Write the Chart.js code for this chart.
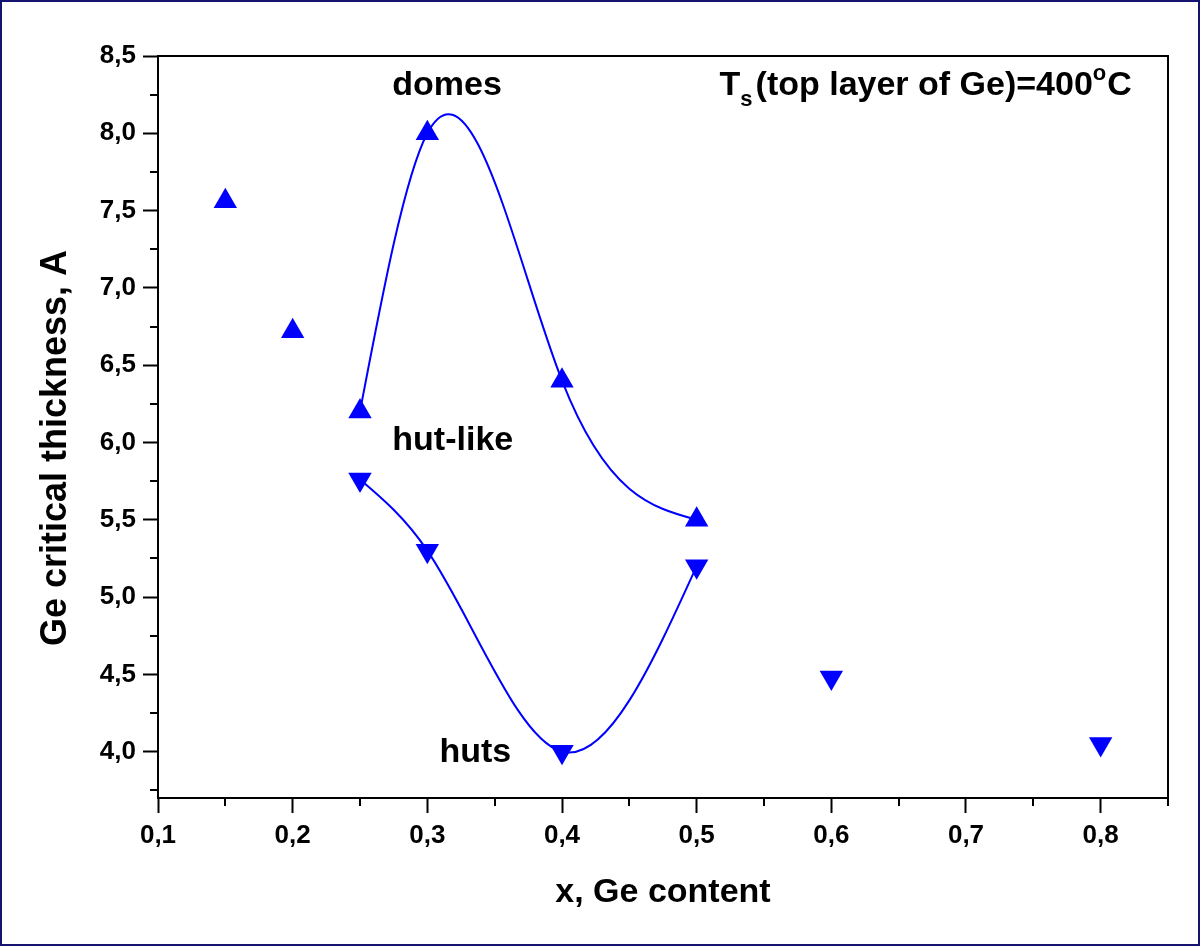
<!DOCTYPE html>
<html>
<head>
<meta charset="utf-8">
<title>Ge critical thickness vs Ge content</title>
<script src="https://cdn.jsdelivr.net/npm/chart.js@4.4.1/dist/chart.umd.min.js"></script>
<style>
    html, body { margin: 0; padding: 0; background: #fff; }
    #wrap { width: 1200px; height: 946px; position: relative; }
</style>
</head>
<body>
<div id="wrap"><canvas id="thickness-chart"></canvas></div>
<script>
// Values
const domesX = [0.15, 0.2, 0.25, 0.3, 0.4, 0.5];
const domesY = [7.56, 6.72, 6.2, 8.0, 6.4, 5.5];
const hutsX = [0.25, 0.3, 0.4, 0.5, 0.6, 0.8];
const hutsY = [5.76, 5.3, 4.0, 5.2, 4.48, 4.05];

// which points the spline goes through (indices into the arrays above)
const domesCurve = [2, 3, 4, 5];
const hutsCurve = [0, 1, 2, 3];

const xTicks = [0.1, 0.2, 0.3, 0.4, 0.5, 0.6, 0.7, 0.8];
const xMinorTicks = [0.15, 0.25, 0.35, 0.45, 0.55, 0.65, 0.75, 0.85];
const yTicks = [4.0, 4.5, 5.0, 5.5, 6.0, 6.5, 7.0, 7.5, 8.0, 8.5];
const yMinorTicks = [3.75, 4.25, 4.75, 5.25, 5.75, 6.25, 6.75, 7.25, 7.75, 8.25];

const BLUE = '#0000ff';
const FONT = 'Arial, "Liberation Sans", sans-serif';

function toPoints(xs, ys, idx) {
    const list = idx || xs.map((_, i) => i);
    return list.map(i => ({ x: xs[i], y: ys[i] }));
}

function commaLabel(v) {
    return Number(v).toFixed(1).replace('.', ',');
}

// slopes of a natural cubic spline y(x) at its knots
function naturalSlopes(xs, ys) {
    const n = xs.length;
    const h = [];
    for (let i = 0; i < n - 1; i++) h.push(xs[i + 1] - xs[i]);
    const M = new Array(n).fill(0);
    if (n > 2) {
        const a = [], b = [], c = [], r = [];
        for (let i = 1; i < n - 1; i++) {
            a.push(h[i - 1]);
            b.push(2 * (h[i - 1] + h[i]));
            c.push(h[i]);
            r.push(6 * ((ys[i + 1] - ys[i]) / h[i] - (ys[i] - ys[i - 1]) / h[i - 1]));
        }
        const m = b.length;
        for (let i = 1; i < m; i++) {
            const w = a[i] / b[i - 1];
            b[i] -= w * c[i - 1];
            r[i] -= w * r[i - 1];
        }
        const sol = new Array(m);
        sol[m - 1] = r[m - 1] / b[m - 1];
        for (let i = m - 2; i >= 0; i--) sol[i] = (r[i] - c[i] * sol[i + 1]) / b[i];
        for (let i = 0; i < m; i++) M[i + 1] = sol[i];
    }
    const d = [];
    for (let i = 0; i < n - 1; i++) {
        d.push((ys[i + 1] - ys[i]) / h[i] - h[i] * (2 * M[i] + M[i + 1]) / 6);
    }
    d.push((ys[n - 1] - ys[n - 2]) / h[n - 2] + h[n - 2] * (M[n - 2] + 2 * M[n - 1]) / 6);
    return d;
}

// Give the line elements the control points of a natural spline (like Origin's "Spline" connector)
const naturalSplinePlugin = {
    id: 'naturalSpline',
    beforeDatasetDraw(chart, args) {
        const ds = chart.data.datasets[args.index];
        if (!ds.naturalSpline) return;
        const meta = args.meta;
        const pts = meta.data;
        const xs = ds.data.map(p => p.x);
        const ys = ds.data.map(p => p.y);
        const d = naturalSlopes(xs, ys);
        const xs_ = chart.scales.x, ys_ = chart.scales.y;
        for (let i = 0; i < pts.length; i++) {
            const hPrev = i > 0 ? xs[i] - xs[i - 1] : 0;
            const hNext = i < xs.length - 1 ? xs[i + 1] - xs[i] : 0;
            pts[i].cp1x = xs_.getPixelForValue(xs[i] - hPrev / 3);
            pts[i].cp1y = ys_.getPixelForValue(ys[i] - d[i] * hPrev / 3);
            pts[i].cp2x = xs_.getPixelForValue(xs[i] + hNext / 3);
            pts[i].cp2y = ys_.getPixelForValue(ys[i] + d[i] * hNext / 3);
        }
        meta.dataset._pointsUpdated = true;
        delete meta.dataset._path;
    }
};

// box, minor ticks, outer frame, y title and the text inside the plot
const figurePlugin = {
    id: 'figure',
    afterDraw(chart, args, opts) {
        const ctx = chart.ctx;
        const area = chart.chartArea;
        const xs = chart.scales.x, ys = chart.scales.y;
        ctx.save();
        ctx.strokeStyle = '#000';
        ctx.lineWidth = 2;
        ctx.strokeRect(area.left, area.top, area.right - area.left, area.bottom - area.top);

        ctx.beginPath();
        xMinorTicks.forEach(v => {
            const px = Math.round(xs.getPixelForValue(v));
            ctx.moveTo(px, area.bottom);
            ctx.lineTo(px, area.bottom + 8);
        });
        yMinorTicks.forEach(v => {
            const py = Math.round(ys.getPixelForValue(v));
            ctx.moveTo(area.left, py);
            ctx.lineTo(area.left - 8, py);
        });
        ctx.stroke();

        ctx.strokeStyle = '#14146e';
        ctx.lineWidth = 2;
        ctx.strokeRect(1, 1, chart.width - 2, chart.height - 2);

        ctx.fillStyle = '#000';

        // y axis title, sits a little below the middle of the axis in the original
        ctx.save();
        ctx.translate(opts.yTitle.x, opts.yTitle.y);
        ctx.rotate(-Math.PI / 2);
        ctx.font = 'bold 36px ' + FONT;
        ctx.textAlign = 'center';
        ctx.textBaseline = 'middle';
        ctx.fillText(opts.yTitle.text, 0, 0);
        ctx.restore();

        ctx.textBaseline = 'alphabetic';
        ctx.textAlign = 'left';
        const big = 'bold 34px ' + FONT;
        const small = 'bold 22px ' + FONT;
        opts.labels.forEach(item => {
            let x = xs.getPixelForValue(item.x);
            const y = ys.getPixelForValue(item.y);
            item.parts.forEach(part => {
                ctx.font = part.sub || part.sup ? small : big;
                const dy = part.sub ? 11 : (part.sup ? -15 : 0);
                ctx.fillText(part.t, x, y + dy);
                x += ctx.measureText(part.t).width + (part.sub ? 3 : (part.sup ? 1 : 0));
            });
        });
        ctx.restore();
    }
};

const ctx = document.getElementById('thickness-chart').getContext('2d');
const thicknessChart = new Chart(ctx, {
    type: 'scatter',
    data: {
        datasets: [
            {
                type: 'line',
                label: 'domes curve',
                data: toPoints(domesX, domesY, domesCurve),
                borderColor: BLUE,
                borderWidth: 2,
                pointRadius: 0,
                fill: false,
                tension: 0.4,
                naturalSpline: true
            },
            {
                type: 'line',
                label: 'huts curve',
                data: toPoints(hutsX, hutsY, hutsCurve),
                borderColor: BLUE,
                borderWidth: 2,
                pointRadius: 0,
                fill: false,
                tension: 0.4,
                naturalSpline: true
            },
            {
                label: 'domes',
                data: toPoints(domesX, domesY),
                pointStyle: 'triangle',
                pointRadius: 13.5,
                backgroundColor: BLUE,
                borderWidth: 0
            },
            {
                label: 'huts',
                data: toPoints(hutsX, hutsY),
                pointStyle: 'triangle',
                rotation: 180,
                pointRadius: 13.5,
                backgroundColor: BLUE,
                borderWidth: 0
            }
        ]
    },
    options: {
        responsive: true,
        maintainAspectRatio: false,
        animation: false,
        layout: {
            padding: { left: 0, top: 56, right: 32, bottom: 0 }
        },
        plugins: {
            legend: { display: false },
            tooltip: { enabled: false },
            figure: {
                yTitle: { text: 'Ge critical thickness, A', x: 56, y: 448 },
                labels: [
                    { x: 0.274, y: 8.25, parts: [{ t: 'domes' }] },
                    { x: 0.274, y: 5.95, parts: [{ t: 'hut-like' }] },
                    { x: 0.309, y: 3.93, parts: [{ t: 'huts' }] },
                    { x: 0.517, y: 8.25, parts: [
                        { t: 'T' }, { t: 's', sub: true },
                        { t: '(top layer of Ge)=400' }, { t: 'o', sup: true }, { t: 'C' }
                    ] }
                ]
            }
        },
        scales: {
            x: {
                type: 'linear',
                min: 0.1,
                max: 0.85,
                afterBuildTicks: scale => { scale.ticks = xTicks.map(v => ({ value: v })); },
                afterFit: scale => { scale.height = 148; },
                grid: { drawOnChartArea: false, tickLength: 15, tickWidth: 2, tickColor: '#000' },
                border: { display: false },
                ticks: {
                    color: '#000',
                    padding: 7,
                    maxRotation: 0,
                    font: { family: FONT, size: 26, weight: 'bold' },
                    callback: v => commaLabel(v)
                },
                title: {
                    display: true,
                    text: 'x, Ge content',
                    color: '#000',
                    font: { family: FONT, size: 34, weight: 'bold' },
                    padding: { top: 0, bottom: 33 }
                }
            },
            y: {
                type: 'linear',
                min: 3.7,
                max: 8.5,
                afterBuildTicks: scale => { scale.ticks = yTicks.map(v => ({ value: v })); },
                afterFit: scale => { scale.width = 158; },
                grid: { drawOnChartArea: false, tickLength: 15, tickWidth: 2, tickColor: '#000' },
                border: { display: false },
                ticks: {
                    color: '#000',
                    padding: 7,
                    font: { family: FONT, size: 26, weight: 'bold' },
                    callback: v => commaLabel(v)
                }
            }
        }
    },
    plugins: [naturalSplinePlugin, figurePlugin]
});
</script>
</body>
</html>
